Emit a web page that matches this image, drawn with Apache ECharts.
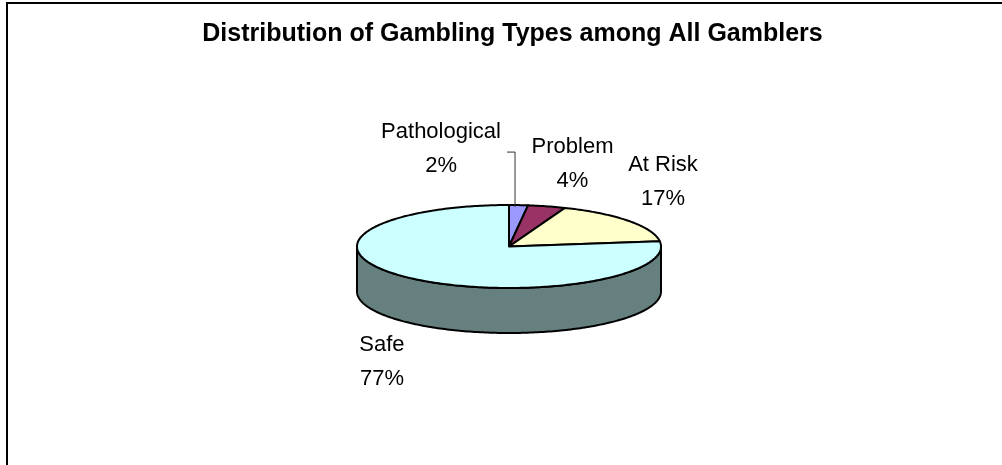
<!DOCTYPE html>
<html>
<head>
<meta charset="utf-8">
<script src="https://cdn.jsdelivr.net/npm/echarts@6/dist/echarts.min.js"></script>
<style>
  html, body { margin: 0; padding: 0; background: #ffffff; }
  #chart { width: 1002px; height: 465px; }
</style>
</head>
<body>
<div id="chart"></div>
<script>
// Gambler categories and their share of all gamblers (%)
const categories = ['Pathological', 'Problem', 'At Risk', 'Safe'];
const percentages = [2, 4, 17, 77];

// Slice styling: top face and darker side wall
const topColors = ['#9999FF', '#993366', '#FFFFCC', '#CCFFFF'];
const sideColors = ['#5C5C99', '#5C1F3D', '#99997A', '#668080'];

// Where each label sits relative to the rim point at its slice's middle angle
const labelOffsets = {
  'Pathological': [-77.5, -56.6],
  'Problem': [25.7, -42.4],
  'At Risk': [33.9, -39.4],
  'Safe': [-26.5, 39.1]
};
// Leader line for the narrow slice, relative to the same rim point
const leaderLines = {
  'Pathological': [[-3.5, 2], [-3.5, -53], [-11.5, -53]]
};

// Tilted pie geometry (ellipse centre, radii, wall height)
const CX = 509, CY = 246.5, RX = 152, RY = 41.5, DEPTH = 45;
const FONT = '"Liberation Sans", Arial, sans-serif';

const total = percentages.reduce((a, b) => a + b, 0);
const cumBefore = [];
percentages.reduce((acc, v, i) => { cumBefore[i] = acc; return acc + v; }, 0);

// angle measured clockwise from 12 o'clock, in degrees
function rimPoint(deg, dy) {
  const r = deg * Math.PI / 180;
  return [CX + RX * Math.sin(r), CY - RY * Math.cos(r) + dy];
}
function arc(a0, a1, dy) {
  const pts = [];
  const steps = Math.max(2, Math.ceil(Math.abs(a1 - a0)));
  for (let k = 0; k <= steps; k++) {
    pts.push(rimPoint(a0 + (a1 - a0) * k / steps, dy));
  }
  return pts;
}

function renderSlice(params, api) {
  const i = params.dataIndex;
  const value = api.value(0);
  const before = api.value(1);
  const a0 = before / total * 360;
  const a1 = (before + value) / total * 360;
  const children = [];

  // visible front part of the wall (between 90° and 270°)
  const s = Math.max(a0, 90), e = Math.min(a1, 270);
  if (e > s) {
    const wall = arc(s, e, 0).concat(arc(s, e, DEPTH).reverse());
    children.push({
      type: 'polygon',
      shape: { points: wall },
      style: { fill: sideColors[i], stroke: '#000', lineWidth: 2, lineJoin: 'round' }
    });
  }

  // top face
  children.push({
    type: 'polygon',
    shape: { points: [[CX, CY]].concat(arc(a0, a1, 0)) },
    style: { fill: topColors[i], stroke: '#000', lineWidth: 2, lineJoin: 'round' }
  });

  // label at the middle angle of the slice
  const mid = (a0 + a1) / 2;
  const midRad = mid * Math.PI / 180;
  const front = Math.cos(midRad) < 0;
  const anchor = rimPoint(mid, front ? DEPTH : 0);
  const name = categories[i];
  const off = labelOffsets[name] || [0, 0];

  if (leaderLines[name]) {
    children.push({
      type: 'polyline',
      shape: { points: leaderLines[name].map(p => [anchor[0] + p[0], anchor[1] + p[1]]) },
      style: { stroke: '#333', lineWidth: 1, fill: null }
    });
  }

  children.push({
    type: 'text',
    style: {
      text: name + '\n' + Math.round(value / total * 100) + '%',
      x: anchor[0] + off[0],
      y: anchor[1] + off[1],
      align: 'center',
      verticalAlign: 'middle',
      fill: '#000',
      fontSize: 22,
      fontFamily: FONT,
      lineHeight: 34
    }
  });

  return { type: 'group', children: children };
}

const chart = echarts.init(document.getElementById('chart'), null, { renderer: 'canvas' });
chart.setOption({
  animation: false,
  backgroundColor: '#ffffff',
  graphic: [
    {
      type: 'rect',
      shape: { x: 7, y: 3, width: 1020, height: 480 },
      style: { fill: null, stroke: '#000', lineWidth: 2 },
      silent: true
    },
    {
      type: 'text',
      style: {
        text: 'Distribution of Gambling Types among All Gamblers',
        x: 512.5,
        y: 34,
        align: 'center',
        verticalAlign: 'middle',
        fill: '#000',
        fontSize: 25,
        fontWeight: 'bold',
        fontFamily: FONT
      }
    }
  ],
  series: [{
    type: 'custom',
    coordinateSystem: 'none',
    renderItem: renderSlice,
    data: percentages.map((v, i) => [v, cumBefore[i]])
  }]
});
</script>
</body>
</html>
